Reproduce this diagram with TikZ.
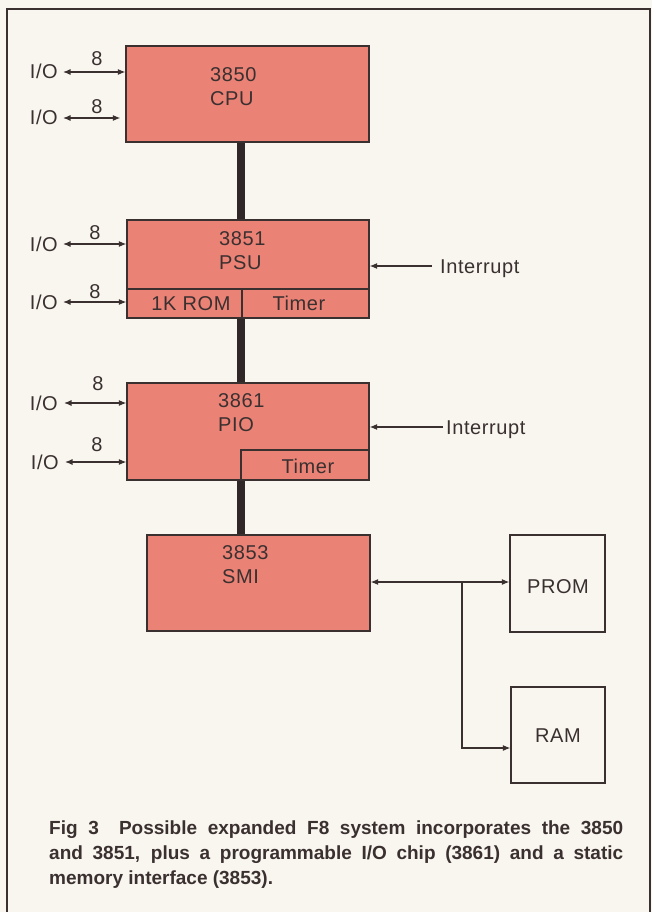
\documentclass[tikz,border=0pt]{standalone}
\usepackage{fontspec}
\setmainfont{Liberation Sans}
\newfontfamily\boxfont{Liberation Sans}[LetterSpace=3]
\usetikzlibrary{arrows.meta}
\definecolor{chip}{RGB}{234,130,118}
\definecolor{paper}{RGB}{248,246,238}
\definecolor{ink}{RGB}{58,48,48}
\definecolor{busc}{RGB}{48,40,40}
\begin{document}
\begin{tikzpicture}[x=1pt,y=-1pt,
  chipbox/.style={draw=ink, line width=1.2pt, fill=chip, inner sep=0pt},
  membox/.style={draw=ink, line width=1.2pt, inner sep=0pt},
  lbl/.style={font=\boxfont\fontsize{20}{24}\selectfont, text=ink, inner sep=0pt, align=left},
  bus/.style={draw=busc, line width=8pt},
  sig/.style={draw=ink, line width=1.2pt, -{Latex[length=7.5pt,width=6pt]}},
  bisig/.style={draw=ink, line width=1.2pt, {Latex[length=7.5pt,width=6pt]}-{Latex[length=7.5pt,width=6pt]}},
]
\fill[paper] (0,0) rectangle (652,912);
\useasboundingbox (0,0) rectangle (652,912);
% frame
\draw[ink, line width=1.4pt] (7,912) -- (7,9) -- (650,9) -- (650,912);

% chips
\node[chipbox, minimum width=243pt, minimum height=96pt] (cpu) at (247.5,94) {};
\node[chipbox, minimum width=242pt, minimum height=98pt] (psu) at (248,269) {};
\node[chipbox, minimum width=115pt, minimum height=29pt] (rom) at (184.5,303.5) {};
\node[chipbox, minimum width=127pt, minimum height=29pt] (ptimer) at (305.5,303.5) {};
\node[chipbox, minimum width=242pt, minimum height=97pt] (pio) at (248,431.5) {};
\node[chipbox, minimum width=128pt, minimum height=30pt] (itimer) at (305,465) {};
\node[chipbox, minimum width=223pt, minimum height=96pt] (smi) at (258.5,583) {};
\node[membox, minimum width=95pt, minimum height=97pt] (prom) at (557.5,583.5) {};
\node[membox, minimum width=94pt, minimum height=96pt] (ram) at (558,735) {};

% buses
\coordinate (busx) at (241,0);
\draw[bus] (cpu.south -| busx) -- (psu.north -| busx);
\draw[bus] (psu.south -| busx) -- (pio.north -| busx);
\draw[bus] (pio.south -| busx) -- (smi.north -| busx);

% chip labels
\node[lbl, anchor=north west] (cpul) at (210,67.8) {3850\\CPU};
\node[lbl, anchor=north west] (psul) at (219,231.8) {3851\\PSU};
\node[lbl, anchor=north west] (piol) at (218,393.8) {3861\\PIO};
\node[lbl, anchor=north west] (smil) at (222,545.8) {3853\\SMI};
\node[lbl, anchor=base] (roml) at (191,310) {1K ROM};
\node[lbl, anchor=base] (ptl) at (299,310) {Timer};
\node[lbl, anchor=base] (itl) at (308,473) {Timer};
\node[lbl, anchor=base] (proml) at (558,593) {PROM};
\node[lbl, anchor=base] (raml) at (558,742) {RAM};

% I/O ports
\node[lbl, anchor=base east] (io1) at (58,79) {I/O};
\node[lbl, anchor=base east] (io2) at (58,125) {I/O};
\node[lbl, anchor=base east] (io3) at (58,251) {I/O};
\node[lbl, anchor=base east] (io4) at (58,309) {I/O};
\node[lbl, anchor=base east] (io5) at (58,410) {I/O};
\node[lbl, anchor=base east] (io6) at (59,469) {I/O};
\coordinate (a1) at (63,72);
\coordinate (a2) at (63,118);
\coordinate (a3) at (63,244);
\coordinate (a4) at (63,302);
\coordinate (a5) at (64,403);
\coordinate (a6) at (65,462);
\draw[bisig] (a1) -- (a1 -| cpu.west);
\draw[bisig, shorten >=5pt] (a2) -- (a2 -| cpu.west);
\draw[bisig] (a3) -- (a3 -| psu.west);
\draw[bisig] (a4) -- (a4 -| psu.west);
\draw[bisig] (a5) -- (a5 -| pio.west);
\draw[bisig] (a6) -- (a6 -| pio.west);
\node[lbl, anchor=base] (w1) at (97,66) {8};
\node[lbl, anchor=base] (w2) at (97,114) {8};
\node[lbl, anchor=base] (w3) at (95,239) {8};
\node[lbl, anchor=base] (w4) at (95,298) {8};
\node[lbl, anchor=base] (w5) at (98,390) {8};
\node[lbl, anchor=base] (w6) at (97,451) {8};

% interrupts
\node[lbl, anchor=base west] (int1) at (440,273) {Interrupt};
\node[lbl, anchor=base west] (int2) at (446,434) {Interrupt};
\coordinate (i1) at (432,266);
\coordinate (i2) at (443,427);
\draw[sig] (i1) -- (i1 -| psu.east);
\draw[sig] (i2) -- (i2 -| pio.east);

% memory bus
\coordinate (br) at (462,582);
\draw[bisig] (br -| smi.east) -- (br -| prom.west);
\coordinate (rin) at (511,748);
\draw[sig] (br) |- (rin -| ram.west);

% caption
\node[anchor=north west, inner sep=0pt, align=left, text=ink,
      font=\bfseries\fontsize{19}{25}\selectfont] (cap) at (49,821)
  {\makebox[574pt][s]{Fig 3\hspace{0.5em} Possible expanded F8 system incorporates the 3850}\\
   \makebox[574pt][s]{and 3851, plus a programmable I/O chip (3861) and a static}\\
   memory interface (3853).};
\end{tikzpicture}
\end{document}
